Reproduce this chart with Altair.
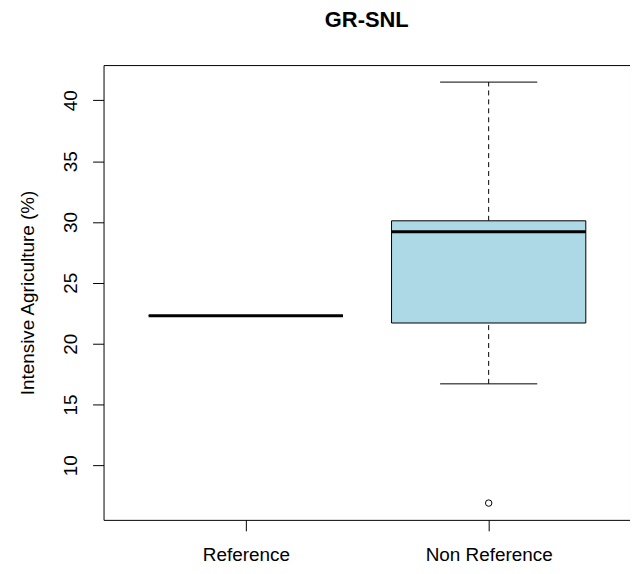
import altair as alt
import pandas as pd

# ---- data ----
groups = ["Reference", "Non Reference"]
positions = [1, 2]
lower_whisker = [22.3, 16.7]
q1 = [22.3, 21.7]
median = [22.3, 29.2]
q3 = [22.3, 30.1]
upper_whisker = [22.3, 41.5]
outlier_group = ["Non Reference"]
outlier_value = [6.9]
y_ticks = [10, 15, 20, 25, 30, 35, 40]

box_half = 0.4
cap_half = 0.2

stats = pd.DataFrame({
    "group": groups,
    "pos": positions,
    "lower": lower_whisker,
    "q1": q1,
    "median": median,
    "q3": q3,
    "upper": upper_whisker,
})
outliers = pd.DataFrame({
    "group": outlier_group,
    "pos": [positions[groups.index(g)] for g in outlier_group],
    "value": outlier_value,
})

FONT = "Liberation Sans"

xs = alt.Scale(domain=[0.414, 2.582], nice=False, zero=False)
ys = alt.Scale(domain=[5.52, 42.9], nice=False, zero=False)

label_expr = "[" + ",".join("'" + g + "'" for g in groups) + "][datum.value - 1]"

x_axis = alt.Axis(values=positions, labelExpr=label_expr, title="",
                  labelBaseline="alphabetic", labelPadding=30)
y_axis = alt.Axis(values=y_ticks, title="Intensive Agriculture (%)",
                  labelAngle=270, labelAlign="center", labelBaseline="alphabetic",
                  labelPadding=16,
                  titleAngle=270, titleAlign="center", titleBaseline="alphabetic",
                  titleX=-70, titleY=228.5, titleFontWeight="normal")

base = alt.Chart(stats).transform_calculate(
    left=f"datum.pos - {box_half}",
    right=f"datum.pos + {box_half}",
    capl=f"datum.pos - {cap_half}",
    capr=f"datum.pos + {cap_half}",
)

upper_w = base.mark_rule(color="black", strokeWidth=1, strokeDash=[5, 4]).encode(
    x=alt.X("pos:Q", scale=xs, axis=x_axis),
    y=alt.Y("q3:Q", scale=ys, axis=y_axis),
    y2="upper:Q",
)
lower_w = base.mark_rule(color="black", strokeWidth=1, strokeDash=[5, 4]).encode(
    x=alt.X("pos:Q", scale=xs),
    y=alt.Y("lower:Q", scale=ys),
    y2="q1:Q",
)
cap_hi = base.mark_rule(color="black", strokeWidth=1).encode(
    x=alt.X("capl:Q", scale=xs), x2="capr:Q", y=alt.Y("upper:Q", scale=ys)
)
cap_lo = base.mark_rule(color="black", strokeWidth=1).encode(
    x=alt.X("capl:Q", scale=xs), x2="capr:Q", y=alt.Y("lower:Q", scale=ys)
)
box = base.mark_rect(fill="#ADD8E6", stroke="black", strokeWidth=1).encode(
    x=alt.X("left:Q", scale=xs), x2="right:Q",
    y=alt.Y("q1:Q", scale=ys), y2="q3:Q",
)
med = base.mark_rule(color="black", strokeWidth=3).encode(
    x=alt.X("left:Q", scale=xs), x2="right:Q", y=alt.Y("median:Q", scale=ys)
)
outl = alt.Chart(outliers).mark_point(
    shape="circle", filled=False, size=42, color="black", strokeWidth=1, opacity=1
).encode(
    x=alt.X("pos:Q", scale=xs),
    y=alt.Y("value:Q", scale=ys),
)

chart = alt.layer(upper_w, lower_w, cap_hi, cap_lo, box, med, outl).properties(
    width=529,
    height=457,
    padding={"left": 96, "top": 56, "right": 0, "bottom": 45},
    autosize="none",
    title=alt.TitleParams("GR-SNL", font=FONT, fontSize=22, fontWeight="bold",
                          anchor="middle", baseline="alphabetic", offset=16,
                          color="black"),
    background="white",
).configure_view(
    stroke="black", strokeWidth=1
).configure_axis(
    grid=False, domain=False, ticks=True, tickSize=11, tickWidth=1, tickColor="black",
    labelFont=FONT, labelFontSize=19, labelColor="black",
    titleFont=FONT, titleFontSize=19, titleColor="black",
)

chart.save("out.html", embed_options={"renderer": "svg", "actions": False})
